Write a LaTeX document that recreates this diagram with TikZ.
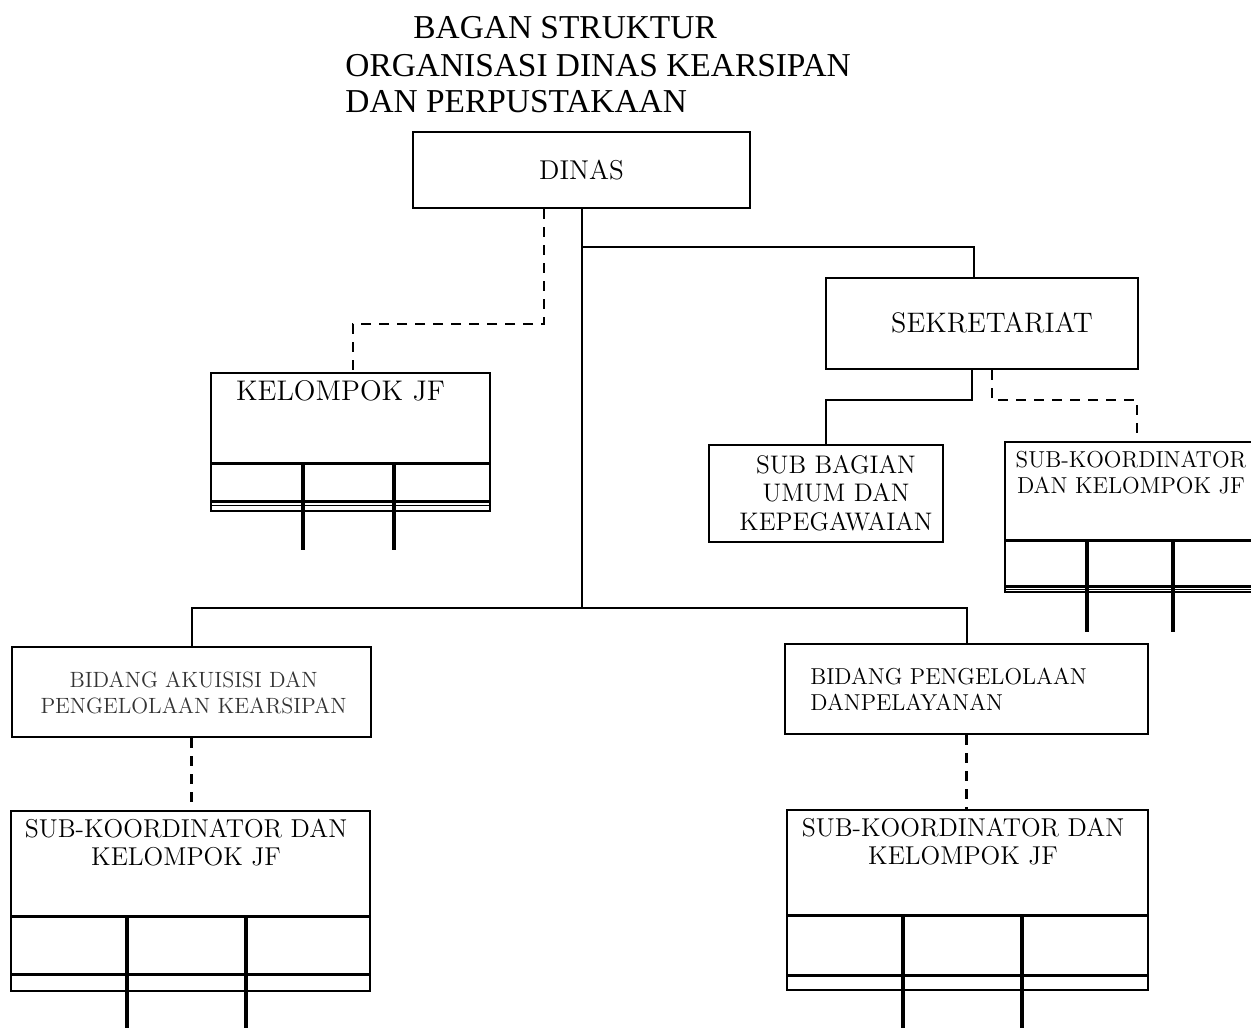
\documentclass[tikz,border=0pt]{standalone}
\usepackage{fontspec}
\newfontfamily\titlefont{Liberation Serif}
\tikzset{
  box/.style={draw, line width=1pt, inner sep=0pt},
  txt/.style={inner sep=0pt, align=center},
  dashline/.style={line width=1.1pt, dash pattern=on 5pt off 4pt},
  solidline/.style={line width=1pt},
  divline/.style={line width=1.5pt},
  thinline/.style={line width=0.7pt},
  legline/.style={line width=1.7pt}
}
\begin{document}
\begin{tikzpicture}[x=0.5pt, y=-0.5pt]
\clip (0,0) rectangle (1251,1027);
% judul
\node[anchor=base west, inner sep=0pt, font=\titlefont\fontsize{16.7}{18}\selectfont] (judul1) at (413,39) {BAGAN STRUKTUR};
\node[anchor=base west, inner sep=0pt, font=\titlefont\fontsize{16.7}{18}\selectfont] (judul2) at (345,77) {ORGANISASI DINAS KEARSIPAN};
\node[anchor=base west, inner sep=0pt, font=\titlefont\fontsize{16.7}{18}\selectfont] (judul3) at (345,113) {DAN PERPUSTAKAAN};
% kotak
\node[box, minimum width=168.5pt, minimum height=38pt, font=\fontsize{13.6}{15}\selectfont] (dinas) at (581.5,170) {DINAS};
\node[box, minimum width=156pt, minimum height=45.5pt] (sekretariat) at (982,323.5) {};
\node[txt, font=\fontsize{14.1}{15}\selectfont] (sekretariatlabel) at (992,323) {SEKRETARIAT};
\node[box, minimum width=139.5pt, minimum height=69pt] (kelompokjf) at (350.5,442) {};
\node[txt, font=\fontsize{14.2}{15}\selectfont] (kelompokjflabel) at (340.5,391) {KELOMPOK JF};
\node[box, minimum width=117pt, minimum height=48.5pt] (subbagian) at (826,493.5) {};
\node[txt, font=\fontsize{12.7}{14.25}\selectfont] (subbagianlabel) at (836,493) {SUB BAGIAN\\UMUM DAN\\KEPEGAWAIAN};
\node[box, minimum width=125.5pt, minimum height=75pt] (subkoorsek) at (1130.5,517) {};
\node[txt, font=\fontsize{11.55}{13}\selectfont] (subkoorseklabel) at (1131,472) {SUB-KOORDINATOR\\DAN KELOMPOK JF};
\node[box, minimum width=179.5pt, minimum height=45pt] (bidangakuisisi) at (191.5,692) {};
\node[txt, text=black!80, font=\fontsize{11.05}{13}\selectfont] (bidangakuisisilabel) at (193.5,693) {BIDANG AKUISISI DAN\\PENGELOLAAN KEARSIPAN};
\node[box, minimum width=181.5pt, minimum height=45pt] (bidangpelayanan) at (966.5,689) {};
\node[txt, anchor=west, align=left, font=\fontsize{11.5}{13}\selectfont] (bidangpelayananlabel) at (810,689) {BIDANG PENGELOLAAN\\DANPELAYANAN};
\node[box, minimum width=179.5pt, minimum height=90pt] (subkoorakuisisi) at (190.5,901) {};
\node[txt, font=\fontsize{12.9}{14}\selectfont] (subkoorakuisisilabel) at (186,843) {SUB-KOORDINATOR DAN\\KELOMPOK JF};
\node[box, minimum width=180.5pt, minimum height=90pt] (subkoorpelayanan) at (967.5,900) {};
\node[txt, font=\fontsize{12.9}{14}\selectfont] (subkoorpelayananlabel) at (963,842) {SUB-KOORDINATOR DAN\\KELOMPOK JF};
% garis dalam kotak kelompok
\draw[divline] (211,463) -- (490,463);
\draw[divline] (211,501) -- (490,501);
\draw[thinline] (211,505.5) -- (490,505.5);
\foreach \x in {303,394} \draw[legline] (\x,463) -- (\x,550);
\draw[divline] (1005,540) -- (1256,540);
\draw[divline] (1005,586) -- (1256,586);
\draw[thinline] (1005,589.5) -- (1256,589.5);
\foreach \x in {1087,1173} \draw[legline] (\x,540) -- (\x,632);
\draw[divline] (11,916) -- (370,916);
\draw[divline] (11,974) -- (370,974);
\foreach \x in {127,246} \draw[legline] (\x,916) -- (\x,1030);
\draw[divline] (787,915) -- (1148,915);
\draw[divline] (787,975) -- (1148,975);
\foreach \x in {903,1022} \draw[legline] (\x,915) -- (\x,1030);
% garis penghubung
\coordinate (bus) at (581.5,608);
\draw[solidline] (dinas.south) -- (bus);
\draw[solidline] (bidangakuisisi.north) |- (bus) -| (bidangpelayanan.north);
\draw[solidline] (dinas.south) -- ++(0,38) -| ([xshift=-4pt]sekretariat.north);
\draw[dashline] ([xshift=-18.75pt]dinas.south) -- ++(0,115) -| ([xshift=1.25pt]kelompokjf.north);
\draw[solidline] ([xshift=-5pt]sekretariat.south) -- ++(0,30) -| (subbagian.north);
\draw[dashline] ([xshift=5pt]sekretariat.south) -- ++(0,30) -| ([xshift=3.25pt]subkoorsek.north);
\draw[dashline] (bidangakuisisi.south) -- (bidangakuisisi.south |- subkoorakuisisi.north);
\draw[dashline] (bidangpelayanan.south) -- (bidangpelayanan.south |- subkoorpelayanan.north);
\end{tikzpicture}
\end{document}
